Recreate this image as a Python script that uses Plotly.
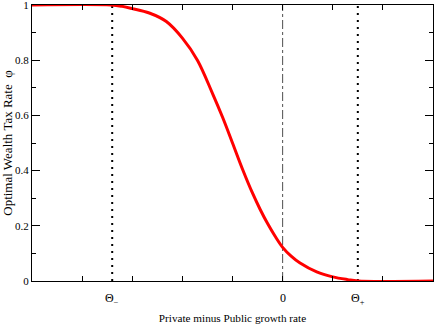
import plotly.graph_objects as go

# Curve data
gap = [-5.0, -3.42, -3.2, -3.0, -2.66, -2.32, -2.0, -1.7, -1.4, -1.2, -1.0, -0.8, -0.6, -0.45, -0.3, -0.15, 0.0, 0.17, 0.34, 0.68, 1.0, 1.3, 1.5, 3.0]
tax = [1.0, 1.0, 0.995, 0.987, 0.971, 0.94, 0.88, 0.80, 0.68, 0.594, 0.5, 0.405, 0.318, 0.26, 0.208, 0.162, 0.122, 0.09, 0.066, 0.033, 0.015, 0.005, 0.0, 0.0]

theta_minus = -3.4
theta_plus = 1.5
x_ticks = [-4, -3, -2, -1, 0, 1, 2]
x_labels = ["Θ<sub>−</sub>", "0", "Θ<sub>+</sub>"]
x_label_pos = [theta_minus, 0.0, theta_plus]
y_ticks = [0, 0.2, 0.4, 0.6, 0.8, 1.0]
y_ticklabels = ["0", "0.2", "0.4", "0.6", "0.8", "1"]

fig = go.Figure()

fig.add_trace(go.Scatter(x=[theta_minus, theta_minus], y=[0, 1], mode="lines",
                         line=dict(color="black", width=2, dash="2px,5px"), showlegend=False))
fig.add_trace(go.Scatter(x=[theta_plus, theta_plus], y=[0, 1], mode="lines",
                         line=dict(color="black", width=2, dash="2px,5px"), showlegend=False))
fig.add_trace(go.Scatter(x=[0, 0], y=[0, 1], mode="lines",
                         line=dict(color="#222", width=0.8, dash="dashdot"), showlegend=False))
fig.add_trace(go.Scatter(x=gap, y=tax, mode="lines",
                         line=dict(color="#ff0000", width=3, shape="spline", smoothing=1.0),
                         showlegend=False))

for xv, txt in zip(x_label_pos, x_labels):
    fig.add_annotation(x=xv, y=0, xref="x", yref="paper", yanchor="top", yshift=-8,
                       text=txt, showarrow=False, font=dict(family="Liberation Serif", size=12, color="black"))

fig.update_layout(
    width=436, height=327,
    margin=dict(l=32, r=3, t=5, b=46, autoexpand=False),
    paper_bgcolor="white", plot_bgcolor="white",
    font=dict(family="Liberation Serif", size=11, color="black"),
    xaxis=dict(range=[-5, 3], tickvals=x_ticks, showticklabels=False, ticks="inside", ticklen=5,
               tickcolor="black", showline=True, linecolor="black", linewidth=1, mirror="ticks",
               showgrid=False, zeroline=False, automargin=False,
               title=dict(text="Private minus Public growth rate", standoff=33, font=dict(size=11.2))),
    yaxis=dict(range=[0, 1], tickvals=y_ticks, ticktext=y_ticklabels, ticks="inside", ticklen=8,
               tickcolor="black", showline=True, linecolor="black", linewidth=1, mirror="ticks",
               showgrid=False, zeroline=False, automargin=False, ticklabeloverflow="allow",
               tickfont=dict(size=11),
               minor=dict(dtick=0.1, ticks="inside", ticklen=4, tickcolor="black", showgrid=False),
               title=dict(text="Optimal Wealth Tax Rate  φ", standoff=4, font=dict(size=13))),
)

fig.write_html("out.html", config={"displayModeBar": False},
               post_script="document.body.style.margin='0px';")
